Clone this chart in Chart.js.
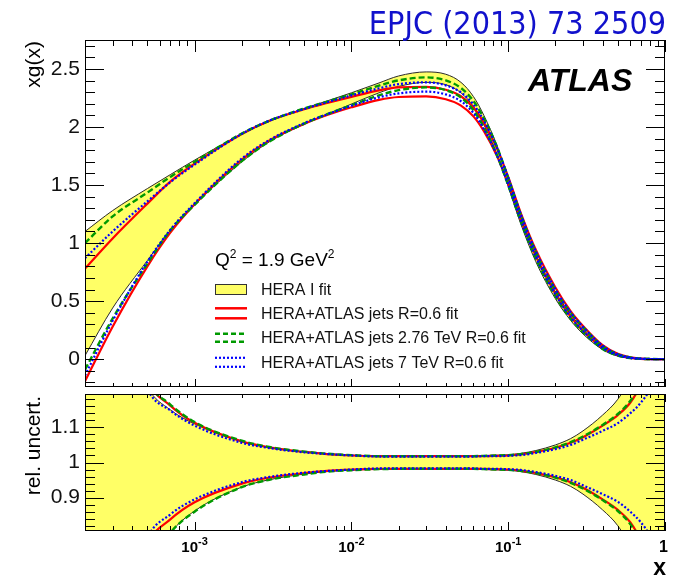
<!DOCTYPE html>
<html><head><meta charset="utf-8">
<script src="https://cdn.jsdelivr.net/npm/chart.js@4/dist/chart.umd.min.js"></script>
<style>
html,body{margin:0;padding:0;background:#fff;}
#wrap{position:relative;width:677px;height:578px;overflow:hidden;background:#fff;}
#top{position:absolute;left:0;top:0;width:677px;height:390px;}
#bot{position:absolute;left:0;top:390px;width:677px;height:188px;}
</style></head><body>
<div id="wrap">
<canvas id="top" width="677" height="390"></canvas>
<canvas id="bot" width="677" height="188"></canvas>
</div>
<script>
// ---------------- data ----------------
const xs = [2e-4, 3e-4, 5e-4, 7e-4, 1e-3, 2e-3, 3e-3, 5e-3, 7e-3, 1e-2, 1.5e-2, 2e-2, 3e-2, 4e-2, 5e-2, 6e-2, 7e-2, 8.5e-2,
            0.1, 0.12, 0.15, 0.2, 0.25, 0.3, 0.4, 0.5, 0.6, 0.7, 0.8, 1.0];

// top panel: xg(x) band edges
const heraUp  = [1.10, 1.28, 1.47, 1.59, 1.715, 1.94, 2.05, 2.16, 2.225, 2.295, 2.38, 2.44, 2.475, 2.455, 2.385, 2.263, 2.10, 1.838,
                 1.553, 1.231, 0.90, 0.579, 0.386, 0.263, 0.108, 0.038, 0.0125, 0.004, 0.0011, 0];
const heraLo  = [0.03, 0.44, 0.85, 1.11, 1.33, 1.70, 1.873, 2.025, 2.11, 2.198, 2.295, 2.35, 2.385, 2.365, 2.295, 2.177, 2.02, 1.762,
                 1.487, 1.169, 0.84, 0.521, 0.334, 0.217, 0.082, 0.026, 0.0075, 0.002, 0.0005, 0];
const redUp   = [0.78, 1.04, 1.34, 1.53, 1.685, 1.94, 2.055, 2.153, 2.207, 2.26, 2.316, 2.341, 2.346, 2.321, 2.265, 2.168, 2.036, 1.812,
                 1.571, 1.263, 0.942, 0.617, 0.414, 0.286, 0.12, 0.0458, 0.0155, 0.005, 0.0013, 0];
const redLo   = [-0.19, 0.28, 0.80, 1.09, 1.335, 1.72, 1.885, 2.027, 2.103, 2.17, 2.234, 2.259, 2.264, 2.239, 2.185, 2.092, 1.964, 1.748,
                 1.509, 1.207, 0.888, 0.563, 0.366, 0.244, 0.096, 0.0342, 0.0105, 0.003, 0.0007, 0];
const greenUp = [1.00, 1.23, 1.435, 1.57, 1.70, 1.944, 2.055, 2.16, 2.219, 2.282, 2.357, 2.402, 2.428, 2.402, 2.336, 2.225, 2.074, 1.826,
                 1.562, 1.249, 0.922, 0.596, 0.399, 0.276, 0.1115, 0.0413, 0.0143, 0.0045, 0.0012, 0];
const greenLo = [-0.09, 0.35, 0.825, 1.11, 1.33, 1.706, 1.875, 2.03, 2.111, 2.188, 2.273, 2.318, 2.342, 2.318, 2.254, 2.145, 1.996, 1.754,
                 1.498, 1.191, 0.868, 0.544, 0.351, 0.234, 0.0885, 0.0307, 0.0097, 0.0025, 0.0006, 0];
const blueUp  = [0.87, 1.10, 1.36, 1.525, 1.676, 1.941, 2.055, 2.156, 2.214, 2.273, 2.334, 2.37, 2.385, 2.359, 2.298, 2.195, 2.054, 1.817,
                 1.564, 1.254, 0.929, 0.603, 0.404, 0.278, 0.1155, 0.0428, 0.0145, 0.0043, 0.0011, 0];
const blueLo  = [-0.14, 0.33, 0.84, 1.115, 1.344, 1.729, 1.889, 2.034, 2.11, 2.183, 2.256, 2.29, 2.305, 2.281, 2.222, 2.121, 1.982, 1.753,
                 1.506, 1.202, 0.881, 0.557, 0.362, 0.242, 0.0945, 0.0332, 0.0105, 0.0029, 0.0007, 0];

// bottom panel: relative uncertainty
const heraRelUp  = [1.95, 1.48, 1.215, 1.15, 1.11, 1.06, 1.042, 1.03, 1.025, 1.021, 1.019, 1.019, 1.019, 1.019, 1.019, 1.0195, 1.02, 1.021,
                    1.022, 1.026, 1.034, 1.05, 1.068, 1.09, 1.135, 1.18, 1.24, 1.32, 1.41, 1.6];
const heraRelLo  = [0.05, 0.45, 0.70, 0.80, 0.862, 0.93, 0.951, 0.967, 0.974, 0.978, 0.981, 0.981, 0.981, 0.981, 0.981, 0.9805, 0.98, 0.979,
                    0.978, 0.974, 0.966, 0.95, 0.932, 0.91, 0.865, 0.82, 0.76, 0.68, 0.59, 0.4];
const redRelUp   = [2.6, 1.58, 1.235, 1.162, 1.113, 1.06, 1.043, 1.03, 1.024, 1.02, 1.018, 1.018, 1.018, 1.018, 1.018, 1.018, 1.018, 1.019,
                    1.02, 1.023, 1.03, 1.042, 1.056, 1.072, 1.105, 1.135, 1.17, 1.22, 1.28, 1.45];
const redRelLo   = [-0.6, 0.42, 0.765, 0.838, 0.887, 0.94, 0.957, 0.97, 0.976, 0.98, 0.982, 0.982, 0.982, 0.982, 0.982, 0.982, 0.982, 0.981,
                    0.98, 0.977, 0.97, 0.958, 0.944, 0.928, 0.895, 0.865, 0.83, 0.78, 0.72, 0.55];
const greenRelUp = [2.2, 1.56, 1.235, 1.165, 1.115, 1.062, 1.044, 1.031, 1.025, 1.021, 1.018, 1.018, 1.018, 1.018, 1.018, 1.018, 1.019, 1.02,
                    1.021, 1.024, 1.03, 1.043, 1.058, 1.074, 1.107, 1.138, 1.175, 1.225, 1.29, 1.45];
const greenRelLo = [-0.2, 0.40, 0.70, 0.80, 0.86, 0.93, 0.951, 0.966, 0.974, 0.978, 0.981, 0.982, 0.982, 0.982, 0.982, 0.982, 0.981, 0.98,
                    0.979, 0.976, 0.97, 0.957, 0.942, 0.926, 0.893, 0.862, 0.825, 0.775, 0.71, 0.55];
const blueRelUp  = [2.38, 1.54, 1.21, 1.148, 1.105, 1.056, 1.041, 1.029, 1.024, 1.02, 1.017, 1.017, 1.017, 1.017, 1.017, 1.017, 1.018, 1.018,
                    1.019, 1.021, 1.027, 1.038, 1.05, 1.065, 1.09, 1.112, 1.14, 1.17, 1.21, 1.35];
const blueRelLo  = [-0.38, 0.46, 0.785, 0.852, 0.895, 0.944, 0.959, 0.971, 0.976, 0.98, 0.983, 0.983, 0.983, 0.983, 0.983, 0.983, 0.982, 0.982,
                    0.981, 0.979, 0.973, 0.962, 0.95, 0.935, 0.91, 0.888, 0.86, 0.83, 0.79, 0.65];

// ticks and labels
const yTicksTop = [0, 0.5, 1, 1.5, 2, 2.5];
const yTicksBot = [0.9, 1, 1.1];
const xTickVals = [1e-3, 1e-2, 1e-1, 1];
const xTickBase = ['10', '10', '10', '1'];
const xTickExp  = ['-3', '-2', '-1', ''];
const titleText = 'EPJC (2013) 73 2509';
const expText = 'ATLAS';
const yTitleTop = 'xg(x)';
const yTitleBot = 'rel. uncert.';
const xTitle = 'x';
const legendLabels = ['HERA I fit', 'HERA+ATLAS jets R=0.6 fit', 'HERA+ATLAS jets 2.76 TeV R=0.6 fit', 'HERA+ATLAS jets 7 TeV R=0.6 fit'];

// ---------------- styling ----------------
const YELLOW = '#ffff66', EDGE = '#2a2a2a', RED = '#ff0000', GREEN = '#009a00', BLUE = '#0000ff';
const SANS = "'Liberation Sans', Arial, Helvetica, sans-serif";
const RED_W = 2.2, GREEN_W = 2.4, BLUE_W = 2.2;
const GREEN_DASH = [6, 3], BLUE_DASH = [2, 2];

function pts(ys) { return xs.map((x, i) => ({ x: x, y: ys[i] })); }
function lineDs(ys, color, width, dash, order) {
  return { data: pts(ys), borderColor: color, borderWidth: width, borderDash: dash, pointRadius: 0,
           fill: false, cubicInterpolationMode: 'monotone', order: order };
}
function makeDatasets(hU, hL, rU, rL, gU, gL, bU, bL) {
  return [
    { data: pts(hL), borderColor: EDGE, borderWidth: 1, pointRadius: 0, fill: false, cubicInterpolationMode: 'monotone', order: 4 },
    { data: pts(hU), borderColor: EDGE, borderWidth: 1, pointRadius: 0, fill: '-1', backgroundColor: YELLOW, cubicInterpolationMode: 'monotone', order: 4 },
    lineDs(rL, RED, RED_W, [], 3), lineDs(rU, RED, RED_W, [], 3),
    lineDs(gL, GREEN, GREEN_W, GREEN_DASH, 2), lineDs(gU, GREEN, GREEN_W, GREEN_DASH, 2),
    lineDs(bL, BLUE, BLUE_W, BLUE_DASH, 1), lineDs(bU, BLUE, BLUE_W, BLUE_DASH, 1)
  ];
}

// frame + ROOT-like inside ticks
const frameTicks = {
  id: 'frameTicks',
  afterDatasetsDraw(chart, args, o) {
    const { ctx, chartArea: a, scales: { x, y } } = chart;
    ctx.save();
    ctx.strokeStyle = '#000'; ctx.lineWidth = 1; ctx.setLineDash([]);
    const L = (x1, y1, x2, y2) => { ctx.beginPath(); ctx.moveTo(x1, y1); ctx.lineTo(x2, y2); ctx.stroke(); };
    const n0 = Math.ceil(y.min / o.yStep - 1e-6), n1 = Math.floor(y.max / o.yStep + 1e-6);
    for (let n = n0; n <= n1; n++) {
      const v = n * o.yStep;
      const isMaj = o.yMajor.some(m => Math.abs(m - v) < 1e-6);
      const len = isMaj ? o.yMaj : o.yMin;
      const p = Math.round(y.getPixelForValue(v)) + 0.5;
      L(a.left, p, a.left + len, p);
      L(a.right, p, a.right - len, p);
    }
    for (let d = -4; d <= 0; d++) {
      for (let k = 1; k <= 9; k++) {
        const v = k * Math.pow(10, d);
        if (v < x.min * 0.999 || v > x.max * 1.001) continue;
        const p = Math.round(x.getPixelForValue(v)) + 0.5;
        const maj = (k === 1);
        L(p, a.top, p, a.top + (maj ? o.xTopMaj : o.xTopMin));
        L(p, a.bottom, p, a.bottom - (maj ? o.xBotMaj : o.xBotMin));
      }
    }
    ctx.strokeRect(Math.round(a.left) + 0.5, Math.round(a.top) + 0.5, Math.round(a.right - a.left) - 1, Math.round(a.bottom - a.top) - 1);
    ctx.restore();
  }
};

function supText(ctx, parts, x, y) {
  let cx = x;
  for (const [t, font, raise] of parts) {
    ctx.font = font;
    ctx.fillText(t, cx, y - raise);
    cx += ctx.measureText(t).width;
  }
}
function supWidth(ctx, parts) {
  let w = 0;
  for (const [t, font] of parts) { ctx.font = font; w += ctx.measureText(t).width; }
  return w;
}

const topText = {
  id: 'topText',
  afterDraw(chart) {
    const ctx = chart.ctx;
    ctx.save();
    ctx.textBaseline = 'alphabetic';
    ctx.fillStyle = '#1111cc';
    ctx.font = "32px 'DejaVu Sans Condensed', 'DejaVu Sans', sans-serif";
    ctx.textAlign = 'right';
    ctx.fillText(titleText, 666, 34);
    ctx.fillStyle = '#000';
    ctx.font = "italic bold 32px " + SANS;
    ctx.textAlign = 'left';
    ctx.fillText(expText, 528, 91);
    ctx.save();
    ctx.translate(40, 41);
    ctx.rotate(-Math.PI / 2);
    ctx.textAlign = 'right';
    ctx.font = "21px " + SANS;
    ctx.fillText(yTitleTop, 0, 0);
    ctx.restore();
    ctx.textAlign = 'left';
    const big = "19px " + SANS, sup = "12px " + SANS;
    supText(ctx, [['Q', big, 0], ['2', sup, 8], [' = 1.9 GeV', big, 0], ['2', sup, 8]], 215, 266);
    const lx0 = 215, lx1 = 247, tx = 261;
    const rows = [289, 313.3, 337.7, 362.3];
    ctx.font = "16px " + SANS;
    ctx.fillStyle = YELLOW; ctx.fillRect(lx0, rows[0] - 5, lx1 - lx0, 10);
    ctx.strokeStyle = '#333'; ctx.lineWidth = 1; ctx.strokeRect(lx0 + 0.5, rows[0] - 5 + 0.5, lx1 - lx0 - 1, 10);
    const drawPair = (yc, off, color, w, dash) => {
      ctx.strokeStyle = color; ctx.lineWidth = w; ctx.setLineDash(dash);
      for (const s of [-off, off]) { ctx.beginPath(); ctx.moveTo(lx0, yc + s); ctx.lineTo(lx1, yc + s); ctx.stroke(); }
      ctx.setLineDash([]);
    };
    drawPair(rows[1], 5, RED, 2.5, []);
    drawPair(rows[2], 4, GREEN, 2.5, [5, 3]);
    drawPair(rows[3], 4.5, BLUE, 2.2, [2, 2]);
    ctx.fillStyle = '#111';
    legendLabels.forEach((t, i) => { ctx.fillText(t, tx, rows[i] + 5.5); });
    ctx.restore();
  }
};

const botText = {
  id: 'botText',
  afterDraw(chart) {
    const { ctx, scales: { x } } = chart;
    ctx.save();
    ctx.fillStyle = '#000';
    ctx.textBaseline = 'alphabetic';
    const baseF = "bold 15px " + SANS, expF = "bold 11px " + SANS;
    xTickVals.forEach((v, i) => {
      const parts = xTickExp[i] ? [[xTickBase[i], baseF, 0], [xTickExp[i], expF, 7]] : [[xTickBase[i], "bold 16px " + SANS, 0]];
      const w = supWidth(ctx, parts);
      let cx = x.getPixelForValue(v) - w / 2;
      if (cx + w > 668) cx = 668 - w;
      ctx.textAlign = 'left';
      supText(ctx, parts, cx, 162);
    });
    ctx.font = "bold 23px " + SANS;
    ctx.textAlign = 'right';
    ctx.fillText(xTitle, 666, 185);
    ctx.save();
    ctx.translate(40, 6);
    ctx.rotate(-Math.PI / 2);
    ctx.textAlign = 'right';
    ctx.font = "21px " + SANS;
    ctx.fillText(yTitleBot, 0, 0);
    ctx.restore();
    ctx.restore();
  }
};

function yScale(min, max, ticks) {
  return {
    type: 'linear', min: min, max: max,
    afterBuildTicks: s => { s.ticks = ticks.map(v => ({ value: v })); },
    afterFit: s => { s.width = 85; s.paddingTop = 0; s.paddingBottom = 0; },
    grid: { display: false, drawTicks: false },
    border: { display: false },
    ticks: { autoSkip: false, padding: 5, color: '#111', font: { family: SANS, size: 21 },
             callback: v => String(v) }
  };
}
const xScale = { type: 'logarithmic', min: 2e-4, max: 1, display: false };

const common = { responsive: false, animation: false, devicePixelRatio: 1, events: [],
  plugins: { legend: { display: false }, tooltip: { enabled: false } } };

new Chart(document.getElementById('top'), {
  type: 'line',
  data: { datasets: makeDatasets(heraUp, heraLo, redUp, redLo, greenUp, greenLo, blueUp, blueLo) },
  options: Object.assign({}, common, {
    layout: { padding: { top: 40, right: 12, bottom: 3, left: 0 } },
    scales: { x: xScale, y: yScale(-0.24, 2.75, yTicksTop) },
    plugins: Object.assign({}, common.plugins, {
      frameTicks: { yStep: 0.1, yMajor: yTicksTop, yMaj: 19, yMin: 10, xTopMaj: 12, xTopMin: 6, xBotMaj: 8, xBotMin: 4 }
    })
  }),
  plugins: [frameTicks, topText]
});

new Chart(document.getElementById('bot'), {
  type: 'line',
  data: { datasets: makeDatasets(heraRelUp, heraRelLo, redRelUp, redRelLo, greenRelUp, greenRelLo, blueRelUp, blueRelLo) },
  options: Object.assign({}, common, {
    layout: { padding: { top: 4, right: 12, bottom: 47, left: 0 } },
    scales: { x: xScale, y: yScale(0.805, 1.195, yTicksBot) },
    plugins: Object.assign({}, common.plugins, {
      frameTicks: { yStep: 0.02, yMajor: yTicksBot, yMaj: 19, yMin: 10, xTopMaj: 8, xTopMin: 4, xBotMaj: 9, xBotMin: 5 }
    })
  }),
  plugins: [frameTicks, botText]
});
</script>
</body></html>
